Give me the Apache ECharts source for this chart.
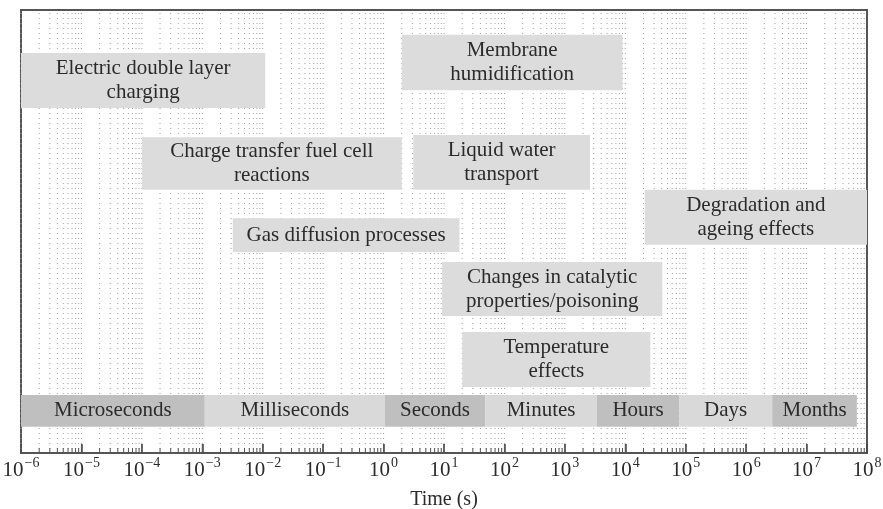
<!DOCTYPE html>
<html>
<head>
<meta charset="utf-8">
<script src="https://cdn.jsdelivr.net/npm/echarts@6/dist/echarts.min.js"></script>
<style>
  html, body { margin: 0; padding: 0; background: #fff; }
  #main { width: 883px; height: 509px; }
</style>
</head>
<body>
<div id="main"></div>
<script>
// processes: label, start (s), end (s), top / bottom of box on a 0-100 vertical scale
var procNames = ['Electric double layer\ncharging', 'Charge transfer fuel cell\nreactions', 'Membrane\nhumidification',
                 'Liquid water\ntransport', 'Gas diffusion processes', 'Degradation and\nageing effects',
                 'Changes in catalytic\nproperties/poisoning', 'Temperature\neffects'];
var procStart = [1e-6, 1e-4, 2, 3.1, 3.2e-3, 2.1e4, 9.3, 20];
var procEnd   = [1.1e-2, 2, 9e3, 2.6e3, 18, 1e8, 4.1e4, 2.6e4];
var procTop   = [90.3, 71.3, 94.4, 71.8, 53.0, 59.4, 43.1, 27.3];
var procBot   = [77.9, 59.4, 81.9, 59.4, 45.4, 47.0, 30.9, 14.9];

// time unit band at the bottom
var unitNames = ['Microseconds', 'Milliseconds', 'Seconds', 'Minutes', 'Hours', 'Days', 'Months'];
var unitStart = [1e-6, 1.1e-3, 1.05, 48, 3400, 7.8e4, 2.7e6];
var unitEnd   = [1.1e-3, 1.05, 48, 3400, 7.8e4, 2.7e6, 6.8e7];
var bandTop = 13.1, bandBot = 5.9;

// decades on the axis
var decades = [-6, -5, -4, -3, -2, -1, 0, 1, 2, 3, 4, 5, 6, 7, 8];
var minorVals = [];
decades.forEach(function (e) {
  if (e >= 8) return;
  for (var k = 1; k <= 9; k++) minorVals.push(k * Math.pow(10, e));
});

var serif = 'Liberation Serif';
var txt = '#2b2b2b';

function makeBox(names, fillFor) {
  return function (params, api) {
    var p0 = api.coord([api.value(0), api.value(2)]);
    var p1 = api.coord([api.value(1), api.value(3)]);
    var i = params.dataIndex;
    return {
      type: 'rect',
      shape: { x: p0[0], y: p0[1], width: p1[0] - p0[0], height: p1[1] - p0[1] },
      style: { fill: fillFor(i) },
      textContent: {
        style: { text: names[i], fill: txt, fontFamily: serif, fontSize: 21, lineHeight: 24, align: 'center', verticalAlign: 'middle' }
      },
      textConfig: { position: 'inside' }
    };
  };
}

var procData = procNames.map(function (n, i) {
  return [procStart[i], procEnd[i], procTop[i], procBot[i]];
});
var unitData = unitNames.map(function (n, i) {
  return [unitStart[i], unitEnd[i], bandTop, bandBot];
});

var option = {
  animation: false,
  grid: {
    left: 21, right: 16, top: 10, bottom: 56,
    outerBoundsMode: 'none',
    containLabel: false,
    show: true, borderColor: '#555', borderWidth: 2, backgroundColor: '#fff'
  },
  xAxis: {
    type: 'log',
    logBase: 10,
    min: 1e-6,
    max: 1e8,
    interval: 1,
    name: 'Time (s)',
    nameLocation: 'middle',
    nameGap: 37,
    nameTextStyle: { fontFamily: serif, fontSize: 20, color: txt },
    axisLine: { show: false },
    axisTick: { show: true, inside: true, length: 9, lineStyle: { color: '#444', width: 1.5 } },
    splitLine: { show: false },
    axisLabel: {
      margin: 3,
      formatter: function (v) {
        var e = Math.round(Math.log(v) / Math.LN10);
        return '{b|10}{s|' + (e < 0 ? '\u2212' + (-e) : e) + '}';
      },
      rich: {
        b: { fontFamily: serif, fontSize: 21, color: txt },
        s: { fontFamily: serif, fontSize: 14, color: txt, verticalAlign: 'bottom', padding: [0, 0, 15, 1] }
      }
    }
  },
  yAxis: {
    type: 'value', min: 0, max: 100, show: false
  },
  series: [
    {
      type: 'custom',
      silent: true,
      z: 1,
      data: minorVals.map(function (v) { return [v]; }),
      renderItem: function (params, api) {
        var v = api.value(0);
        var top = api.coord([v, 100]);
        var bot = api.coord([v, 0]);
        var isMajor = params.dataIndex % 9 === 0;
        return {
          type: 'group',
          children: [
            { type: 'line', shape: { x1: top[0], y1: top[1] + 3, x2: bot[0], y2: bot[1] - 2 },
              style: { stroke: '#a0a0a0', lineWidth: 1, lineDash: [1, 4] } },
            { type: 'line', shape: { x1: bot[0], y1: bot[1], x2: bot[0], y2: bot[1] - (isMajor ? 9 : 5) },
              style: { stroke: '#555', lineWidth: 1 } }
          ]
        };
      }
    },
    {
      type: 'custom',
      silent: true,
      z: 2,
      data: procData,
      renderItem: makeBox(procNames, function () { return '#dcdcdc'; })
    },
    {
      type: 'custom',
      silent: true,
      z: 2,
      data: unitData,
      renderItem: makeBox(unitNames, function (i) { return i % 2 === 0 ? '#bfbfbf' : '#d9d9d9'; })
    }
  ]
};

var myChart = echarts.init(document.getElementById('main'));
myChart.setOption(option);
</script>
</body>
</html>
